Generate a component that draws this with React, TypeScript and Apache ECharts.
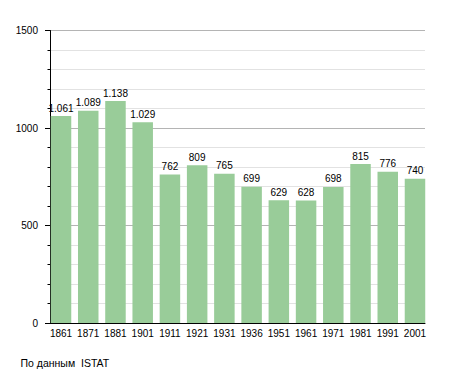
import React, { useEffect, useRef } from "react";
import * as echarts from "echarts";

const categories = ["1861", "1871", "1881", "1901", "1911", "1921", "1931", "1936", "1951", "1961", "1971", "1981", "1991", "2001"];
const population = [1061, 1089, 1138, 1029, 762, 809, 765, 699, 629, 628, 698, 815, 776, 740];
const yTicks = [0, 500, 1000, 1500];
const sourceNote = "По данным  ISTAT";

const fmt = (v: number) => {
  const s = String(v);
  return v >= 1000 ? s.slice(0, s.length - 3) + "." + s.slice(-3) : s;
};

export default function App() {
  const ref = useRef<HTMLDivElement>(null);
  useEffect(() => {
    if (!ref.current) return;
    const chart = echarts.init(ref.current, null, { renderer: "svg" });
    const font = "Liberation Sans, Arial, sans-serif";
    const yMin = yTicks[0];
    const yMax = yTicks[yTicks.length - 1];
    chart.setOption({
      animation: false,
      textStyle: { fontFamily: font },
      grid: [
        { left: 50, right: 30, top: 30.5, bottom: 50 },
        { left: 47.4, right: 26.4, top: 30.5, bottom: 50 },
      ],
      xAxis: [
        {
          gridIndex: 0,
          type: "value",
          min: 0,
          max: 1,
          axisLine: { show: true, onZero: false, lineStyle: { color: "#000", width: 1 } },
          axisTick: { show: false },
          axisLabel: { show: false },
          splitLine: { show: false },
          z: 5,
        },
        {
          gridIndex: 1,
          type: "category",
          data: categories,
          axisLine: { show: false },
          axisTick: { show: false },
          axisLabel: { color: "#000", fontSize: 10, fontFamily: font, margin: 5, interval: 0 },
        },
      ],
      yAxis: [
        {
          gridIndex: 0,
          type: "value",
          min: yMin,
          max: yMax,
          interval: 500,
          axisLine: { show: true, lineStyle: { color: "#000", width: 1 } },
          axisTick: { show: true, length: 5, lineStyle: { color: "#000" } },
          minorTick: { show: true, splitNumber: 5, length: 2.5, lineStyle: { color: "#000" } },
          axisLabel: { color: "#000", fontSize: 10, fontFamily: font, margin: 12, formatter: (v: number) => String(v) },
          splitLine: { show: true, lineStyle: { color: "#b4b4b4", width: 1 } },
          minorSplitLine: { show: true, lineStyle: { color: "#e2e2e2", width: 1 } },
        },
        {
          gridIndex: 1,
          type: "value",
          min: yMin,
          max: yMax,
          show: false,
          splitLine: { show: false },
        },
      ],
      series: [
        {
          type: "bar",
          xAxisIndex: 1,
          yAxisIndex: 1,
          data: population,
          barWidth: 20.5,
          z: 3,
          itemStyle: { color: "#99cc99" },
          label: {
            show: true,
            position: "top",
            distance: 3,
            color: "#000",
            fontSize: 10,
            fontFamily: font,
            formatter: (p: any) => fmt(p.value),
          },
        },
      ],
      graphic: [
        {
          type: "text",
          left: 20.5,
          top: 357,
          style: { text: sourceNote, fill: "#000", font: `10.5px ${font}` },
        },
      ],
    });
    return () => chart.dispose();
  }, []);
  return <div ref={ref} style={{ width: 455, height: 373, position: "absolute", left: 0, top: 0 }} />;
}
